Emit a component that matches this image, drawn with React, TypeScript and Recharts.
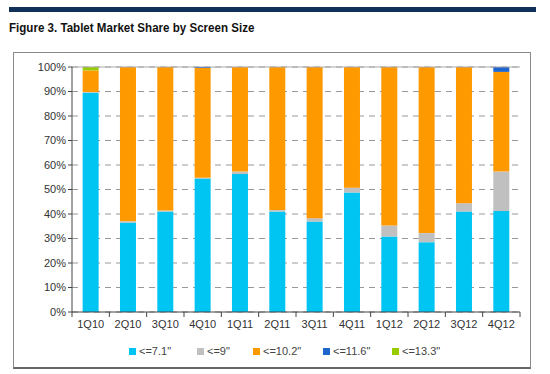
import { BarChart, Bar, XAxis, YAxis, CartesianGrid, ReferenceLine } from "recharts"

const quarters = ["1Q10", "2Q10", "3Q10", "4Q10", "1Q11", "2Q11", "3Q11", "4Q11", "1Q12", "2Q12", "3Q12", "4Q12"]
const upTo71 = [89.5, 36.5, 41, 54.5, 56.3, 41, 36.9, 48.8, 30.8, 28.5, 41, 41.2]
const upTo9 = [0.3, 0.5, 0.4, 0.3, 1, 0.6, 1.4, 1.9, 4.5, 3.7, 3.4, 16.1]
const upTo102 = [8.8, 63, 58.6, 44.8, 42.7, 58.4, 61.7, 49.3, 64.7, 67.8, 55.6, 40.7]
const upTo116 = [0, 0, 0, 0.4, 0, 0, 0, 0, 0, 0, 0, 2]
const upTo133 = [1.4, 0, 0, 0, 0, 0, 0, 0, 0, 0, 0, 0]
const yTicks = [0, 10, 20, 30, 40, 50, 60, 70, 80, 90, 100]

const series = [
  { key: "s71", name: "<=7.1\"", color: "#00c4f2", values: upTo71 },
  { key: "s9", name: "<=9\"", color: "#c0c0c0", values: upTo9 },
  { key: "s102", name: "<=10.2\"", color: "#ff9900", values: upTo102 },
  { key: "s116", name: "<=11.6\"", color: "#1f66cc", values: upTo116 },
  { key: "s133", name: "<=13.3\"", color: "#99cc00", values: upTo133 },
]
// legend slot widths, roughly as spaced in the original
const legendSlots = [68, 56, 70, 69, 60]

const data = quarters.map((q, i) => {
  const row: Record<string, string | number> = { q }
  series.forEach((s) => (row[s.key] = s.values[i]))
  return row
})

const font = "Arial, 'Liberation Sans', sans-serif"
const band = 448 / quarters.length

function QuarterTick(props: any) {
  const { x, y, payload, index } = props
  const axisY = y - 8
  return (
    <g>
      <line x1={x - band / 2} x2={x - band / 2} y1={axisY} y2={axisY + 5} stroke="#444" />
      {index === quarters.length - 1 && (
        <line x1={x + band / 2} x2={x + band / 2} y1={axisY} y2={axisY + 5} stroke="#444" />
      )}
      <text x={x} y={y} dy="0.71em" textAnchor="middle" fontSize={11} fill="#333" fontFamily={font}>
        {payload.value}
      </text>
    </g>
  )
}

export default function App() {
  return (
    <div style={{ position: "absolute", left: 0, top: 0, width: 550, height: 374, background: "#fff", overflow: "hidden" }}>
      <div style={{ position: "absolute", left: 9, top: 7, width: 527, height: 5, background: "#10305a" }} />
      <div
        style={{
          position: "absolute",
          left: 9,
          top: 20,
          fontFamily: font,
          fontWeight: "bold",
          fontSize: 13,
          color: "#111",
          whiteSpace: "nowrap",
          transform: "scaleX(0.89)",
          transformOrigin: "left center",
        }}
      >
        Figure 3. Tablet Market Share by Screen Size
      </div>
      <div
        style={{
          position: "absolute",
          left: 13,
          top: 52,
          width: 516,
          height: 314,
          border: "1px solid #8a8a8a",
          borderBottom: "2px solid #666",
        }}
      />
      <div style={{ position: "absolute", left: 0, top: 0 }}>
        <BarChart width={550} height={374} data={data} margin={{ top: 67, right: 30, left: 0, bottom: 42 }} barCategoryGap="28.5%">
          <CartesianGrid yAxisId="l" vertical={false} stroke="#999" strokeDasharray="6 5" />
          <XAxis dataKey="q" height={20} tickSize={5} tickMargin={3} tickLine={false} axisLine={{ stroke: "#444" }} tick={<QuarterTick />} interval={0} />
          <YAxis
            yAxisId="l"
            width={72}
            domain={[0, 100]}
            ticks={yTicks}
            tickFormatter={(v) => `${v}%`}
            tickSize={4}
            tickMargin={2}
            tickLine={{ stroke: "#444" }}
            axisLine={{ stroke: "#444" }}
            tick={{ fontSize: 11, fill: "#333", fontFamily: font }}
          />
          <YAxis yAxisId="r" orientation="right" width={0} domain={[0, 100]} tick={false} tickLine={false} axisLine={{ stroke: "#aaa" }} />
          <ReferenceLine yAxisId="l" y={100} stroke="#aaa" />
          {series.map((s) => (
            <Bar key={s.key} yAxisId="l" dataKey={s.key} name={s.name} stackId="a" fill={s.color} isAnimationActive={false} />
          ))}
        </BarChart>
      </div>
      <div style={{ position: "absolute", left: 129, top: 345, display: "flex", fontFamily: font, fontSize: 11, color: "#444" }}>
        {series.map((s, i) => (
          <div key={s.key} style={{ display: "flex", alignItems: "center", width: legendSlots[i] }}>
            <span style={{ display: "inline-block", width: 7, height: 7, background: s.color, marginRight: 3 }} />
            <span>{s.name}</span>
          </div>
        ))}
      </div>
    </div>
  )
}
